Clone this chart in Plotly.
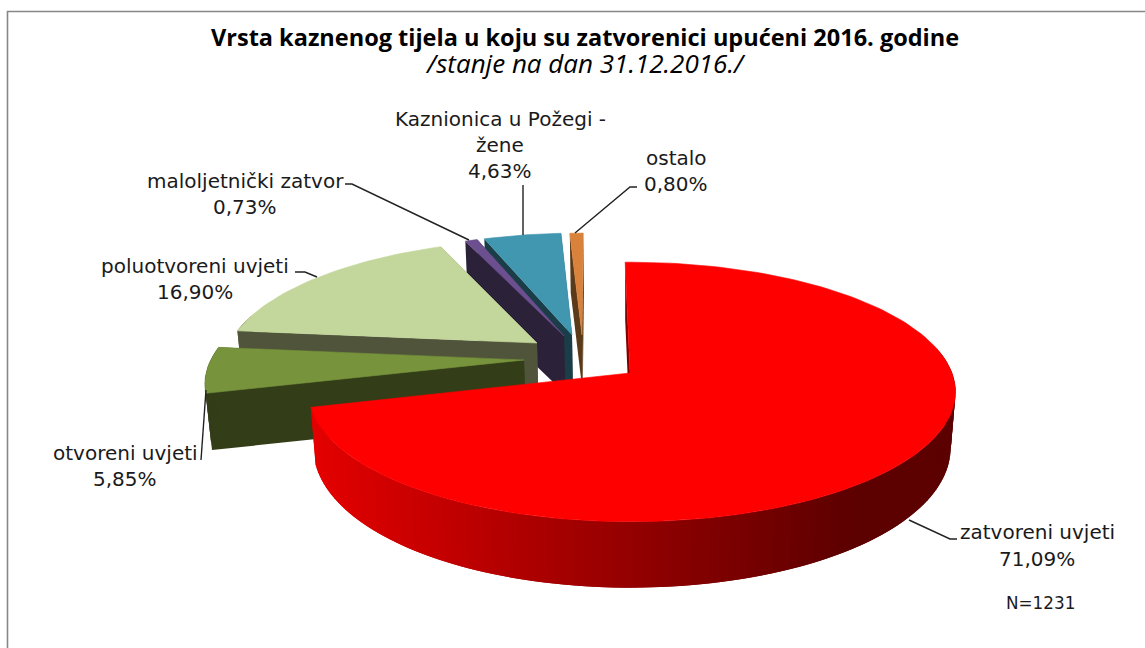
import math
import plotly.graph_objects as go

# ---- data ----
categories = ["zatvoreni uvjeti", "otvoreni uvjeti", "poluotvoreni uvjeti",
              "maloljetnički zatvor", "Kaznionica u Požegi - žene", "ostalo"]
values = [71.09, 5.85, 16.90, 0.73, 4.63, 0.80]
total_n = 1231
title_text = "Vrsta kaznenog tijela u koju su zatvorenici upućeni 2016. godine"
subtitle_text = "/stanje na dan 31.12.2016./"

# ---- styling ----
top_colors = ["#ff0000", "#77933c", "#c3d69b", "#6b4f8f", "#4196b0", "#d9823b"]
face_colors = ["#800000", "#333d18", "#50543b", "#2b2138", "#1a3d47", "#5a3a18"]
# apex pixel of every exploded slice
apex = [(630, 373), (524, 360), (537, 343), (564, 336), (572, 335), (582, 335)]
paint_order = [5, 4, 3, 2, 1, 0]

CX, CY, A_R, A_L, B, K, ROT = 630, 373, 322, 318, 127, 0.146, -1.0
SHRINK = 0.985


def sx(u):
    return A_R * u if u >= 0 else A_L * u


def top_pt(u, v):
    d = 1 + K * v
    return CX + sx(u) / d, CY - B * v / d


def bot_pt(u, v):
    d = 1 + K * v
    h = 57 + 14 * max(0, -v - 0.2)
    return CX + SHRINK * sx(u) / d, CY + h - SHRINK * B * v / d


def inverse(px, py):
    dy = CY - py
    v = dy / (B - K * dy)
    a = A_R if px >= CX else A_L
    u = (px - CX) * (1 + K * v) / a
    return u, v


def lerp_color(c0, c1, t):
    t = max(0, min(1, t))
    return "rgb(%d,%d,%d)" % tuple(round(a + (b - a) * t) for a, b in zip(c0, c1))


fig = go.Figure()


def poly(pts, color, edge=0.6):
    xs = [p[0] for p in pts] + [pts[0][0]]
    ys = [p[1] for p in pts] + [pts[0][1]]
    fig.add_trace(go.Scatter(x=xs, y=ys, mode="lines", fill="toself", fillcolor=color,
                             line=dict(color=color, width=edge), hoverinfo="skip", showlegend=False))


# cumulative angles from the values
cum = 0.0
spans = []
for val in values:
    spans.append((cum * 3.6 + ROT, (cum + val) * 3.6 + ROT))
    cum += val

for i in paint_order:
    start, end = spans[i]
    u0, v0 = inverse(*apex[i])
    n = max(2, int((end - start) / 1.5))
    angs = [math.radians(start + (end - start) * k / n) for k in range(n + 1)]
    rim = [(u0 + math.sin(a), v0 + math.cos(a)) for a in angs]
    # radial faces
    poly([top_pt(u0, v0), top_pt(*rim[0]), bot_pt(*rim[0]), bot_pt(u0, v0)], face_colors[i], edge=0)
    if i != 0:
        poly([top_pt(u0, v0), top_pt(*rim[-1]), bot_pt(*rim[-1]), bot_pt(u0, v0)], face_colors[i], edge=0)
    # outer wall, front-facing part only: every band runs on under the next one
    for k in range(n):
        if math.cos(angs[k]) > 0.2:
            continue
        p, q = rim[k], rim[min(k + 2, n)]
        if i == 0:
            xm = top_pt(*rim[k])[0]
            col = lerp_color((226, 0, 0), (92, 0, 0), (xm - 320) / (860 - 320))
        else:
            col = face_colors[i]
        poly([top_pt(*q), top_pt(*p), bot_pt(*p), bot_pt(*q)], col, edge=0)
    # top surface
    poly([top_pt(u0, v0)] + [top_pt(*p) for p in rim], top_colors[i])

# leader lines
leaders = [
    [(909, 520), (950, 539), (957, 539)],
    [(206, 390), (201, 460)],
    [(295, 272), (305, 272), (317, 277)],
    [(345, 184), (352, 184), (469, 240)],
    [(523, 185), (523, 235)],
    [(637, 187), (630, 187), (575, 233)],
]
for ln in leaders:
    fig.add_trace(go.Scatter(x=[p[0] for p in ln], y=[p[1] for p in ln], mode="lines",
                             line=dict(color="#222222", width=1.4), hoverinfo="skip", showlegend=False))

# frame (top and left rules only)
fig.add_trace(go.Scatter(x=[7.5, 7.5, 1145], y=[648, 11.5, 11.5], mode="lines",
                         line=dict(color="#868686", width=1.6), hoverinfo="skip", showlegend=False))


def pct(v):
    return f"{v:.2f}".replace(".", ",") + "%"


def text(x, y, s, size=20, family="DejaVu Sans", color="#1a1a1a"):
    fig.add_annotation(x=x, y=y, text=s, showarrow=False, xanchor="center", yanchor="middle",
                       font=dict(size=size, family=family, color=color))


text(585, 50.5,
     f"<span style='font-size:23.5px'><b>{title_text}</b></span><br>"
     f"<span style='font-size:26px'><i>{subtitle_text}</i></span>",
     size=20.8, family="Open Sans", color="#000000")

text(1037, 532, categories[0]); text(1037, 559, pct(values[0]))
text(125, 453, categories[1]); text(125, 479, pct(values[1]))
text(195, 266, categories[2]); text(195, 292, pct(values[2]))
text(245, 181, categories[3]); text(245, 207, pct(values[3]))
text(500, 119, "Kaznionica u Požegi -"); text(500, 145, "žene"); text(500, 171, pct(values[4]))
text(676, 158, categories[5]); text(676, 184, pct(values[5]))
text(1040, 603, f"N={total_n}", size=16.8)

fig.update_layout(
    width=1145, height=648, margin=dict(l=0, r=0, t=0, b=0),
    paper_bgcolor="white", plot_bgcolor="white", showlegend=False,
    xaxis=dict(range=[0, 1145], visible=False, fixedrange=True),
    yaxis=dict(range=[648, 0], visible=False, fixedrange=True),
)
fig.write_html("out.html", config=dict(displayModeBar=False),
               post_script="document.body.style.margin='0';document.body.style.overflow='hidden';")
